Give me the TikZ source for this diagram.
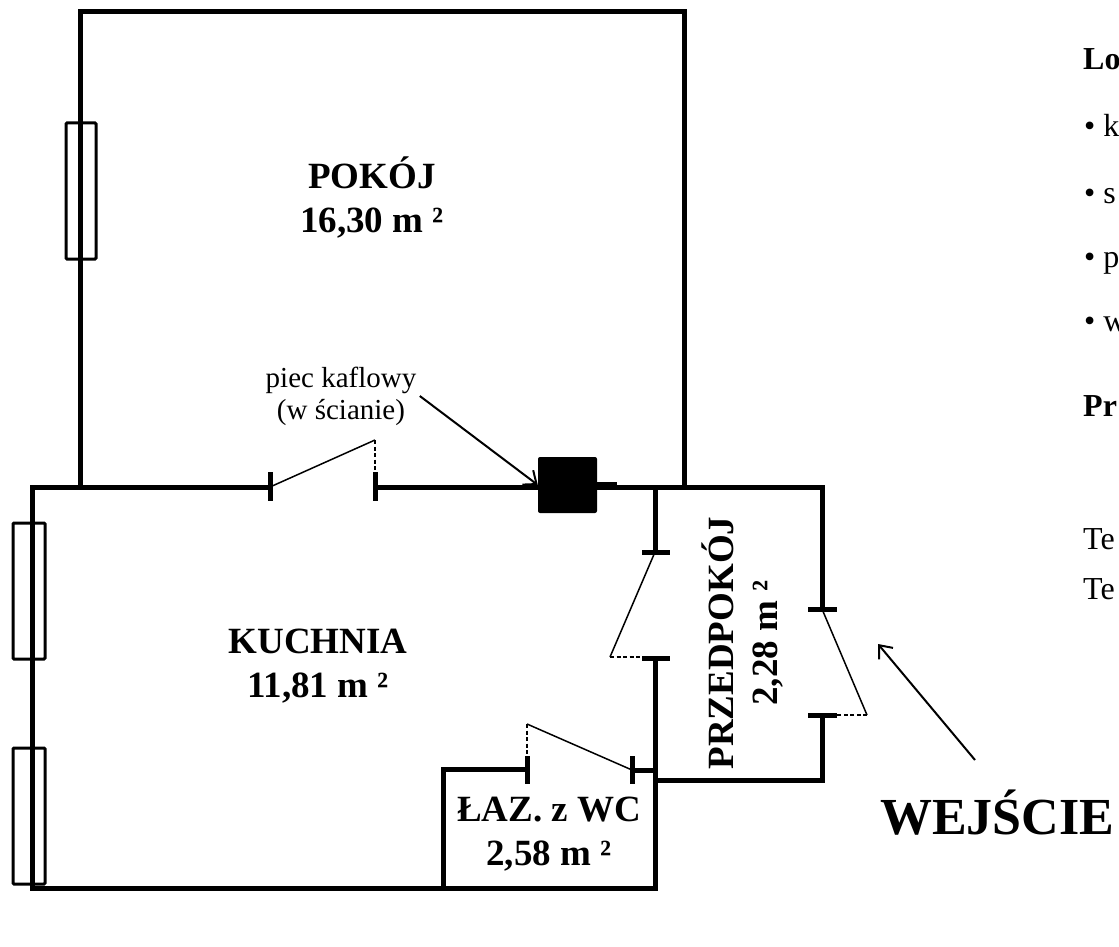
\documentclass[tikz,border=0pt]{standalone}
\usepackage{fontspec}
\setmainfont{Liberation Serif}
\usetikzlibrary{arrows.meta}
\tikzset{
    wall/.style={line width=5pt, line cap=rect},
    doortick/.style={line width=5pt},
    leaf/.style={line width=1.5pt},
    swing/.style={line width=1.5pt, dash pattern=on 4pt off 2.5pt},
    window/.style={draw, line width=3pt, fill=white, rounded corners=1pt},
    room/.style={font=\fontsize{37}{44}\selectfont\bfseries, align=center},
    note/.style={font=\fontsize{29}{32}\selectfont, align=center},
    side/.style={font=\fontsize{32}{34}\selectfont, anchor=base west, inner sep=0pt},
    arr/.style={line width=2pt, -{Straight Barb[length=11pt,width=18pt]}},
}

\begin{document}
\begin{tikzpicture}[x=1pt, y=-1pt]
    \useasboundingbox[fill=white] (0,0) rectangle (1119,947);
    % windows
    \draw[window] (66,123) rectangle (96,259);
    \draw[window] (13,523) rectangle (45,659);
    \draw[window] (13,748) rectangle (45,884);
    % walls
    \draw[wall] (80,487) -- (80,12) -- (684,12) -- (684,487);
    \draw[wall] (270,487) -- (32,487) -- (32,888) -- (655,888) -- (655,658);
    \draw[wall] (375,487) -- (822,487) -- (822,609);
    \draw[wall] (655,487) -- (655,552);
    \draw[wall] (822,715) -- (822,780) -- (655,780);
    \draw[wall] (655,770) -- (632,770);
    \draw[wall] (443,888) -- (443,769) -- (527,769);
    \draw[line width=8pt] (597,486) -- (617,486);
    % doors
    \foreach \x in {270,375}
        \draw[doortick] (\x,472) -- (\x,501);
    \foreach \y in {552,658}
        \draw[doortick] (642,\y) -- (670,\y);
    \foreach \y in {609,715}
        \draw[doortick] (808,\y) -- (837,\y);
    \foreach \x in {527,632}
        \draw[doortick] (\x,756) -- (\x,784);
    \draw[leaf] (270,487) -- (375,440);
    \draw[swing] (375,440) -- (375,472);
    \draw[leaf] (655,552) -- (610,657);
    \draw[swing] (610,657) -- (642,657);
    \draw[leaf] (822,609) -- (867,715);
    \draw[swing] (867,715) -- (837,715);
    \draw[leaf] (632,770) -- (527,724);
    \draw[swing] (527,724) -- (527,756);
    % stove
    \node[fill=black, rounded corners=2pt, minimum width=59pt, minimum height=56pt, inner sep=0pt] (stove) at (567.5,485) {};
    % rooms
    \node[room] (pokoj) at (372,197) {POKÓJ\\16,30 m ²};
    \node[room] (kuchnia) at (318,666) {KUCHNIA\\11,81 m ²};
    \node[room] (lazienka) at (549,834) {ŁAZ. z WC\\2,58 m ²};
    \node[room, rotate=90] (przedpokoj) at (742,643) {PRZEDPOKÓJ\\2,28 m ²};
    \node[note] (piec) at (341,396) {piec kaflowy\\(w ścianie)};
    \draw[arr] (piec.east) -- (stove.west);
    % entrance
    \node[font=\fontsize{52}{56}\selectfont\bfseries, anchor=base west, inner sep=0pt] (wejscie) at (880,834) {WEJŚCIE};
    \coordinate (arrstart) at (975,760);
    \coordinate (entry) at (878,644);
    \draw[arr] (arrstart) -- (entry);
    % side text
    \node[side] (lok) at (1083,70) {\bfseries Lo};
    \node[side] (b1) at (1084,137) {• k};
    \node[side] (b2) at (1084,203) {• s};
    \node[side] (b3) at (1084,267) {• p};
    \node[side] (b4) at (1084,331) {• w};
    \node[side] (pr) at (1083,416) {\bfseries Pr};
    \node[side] (t1) at (1083,549) {Te};
    \node[side] (t2) at (1083,599) {Te};
\end{tikzpicture}
\end{document}
